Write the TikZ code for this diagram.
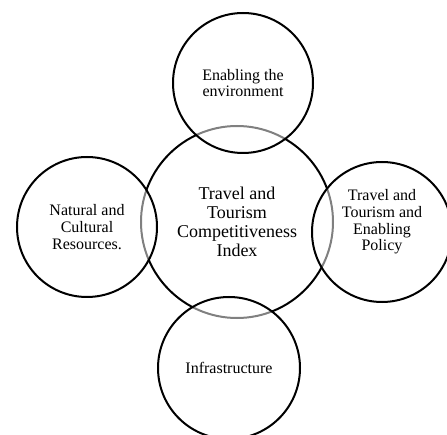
\documentclass[tikz,border=0pt]{standalone}
\usepackage{fontspec}
\setmainfont{Liberation Serif}
\usepackage{tikz}

\begin{document}
\begin{tikzpicture}[
    x=1pt, y=1pt,
    ring/.style={circle, draw=black, line width=2pt, align=center, inner sep=0pt},
    outer/.style={ring, minimum size=140pt, fill=white, fill opacity=0.5, text opacity=1,
        font=\fontsize{16}{16.7}\selectfont},
    ]
    \useasboundingbox (0,0) rectangle (447,434);
    \clip (0,0) rectangle (447,434);

    \node[ring, minimum size=192pt, font=\fontsize{18}{19}\selectfont] (tti) at (237,212)
        {Travel and\\Tourism\\Competitiveness\\Index};

    \node[outer] (env) at (243,351) {Enabling the\\environment};
    \node[outer] (nat) at (87,207) {Natural and\\Cultural\\Resources.};
    \node[outer] (pol) at (382,202) {Travel and\\Tourism and\\Enabling\\Policy\\[7pt]\mbox{}};
    \node[outer, minimum size=142pt] (infra) at (229,66) {Infrastructure};
\end{tikzpicture}
\end{document}
